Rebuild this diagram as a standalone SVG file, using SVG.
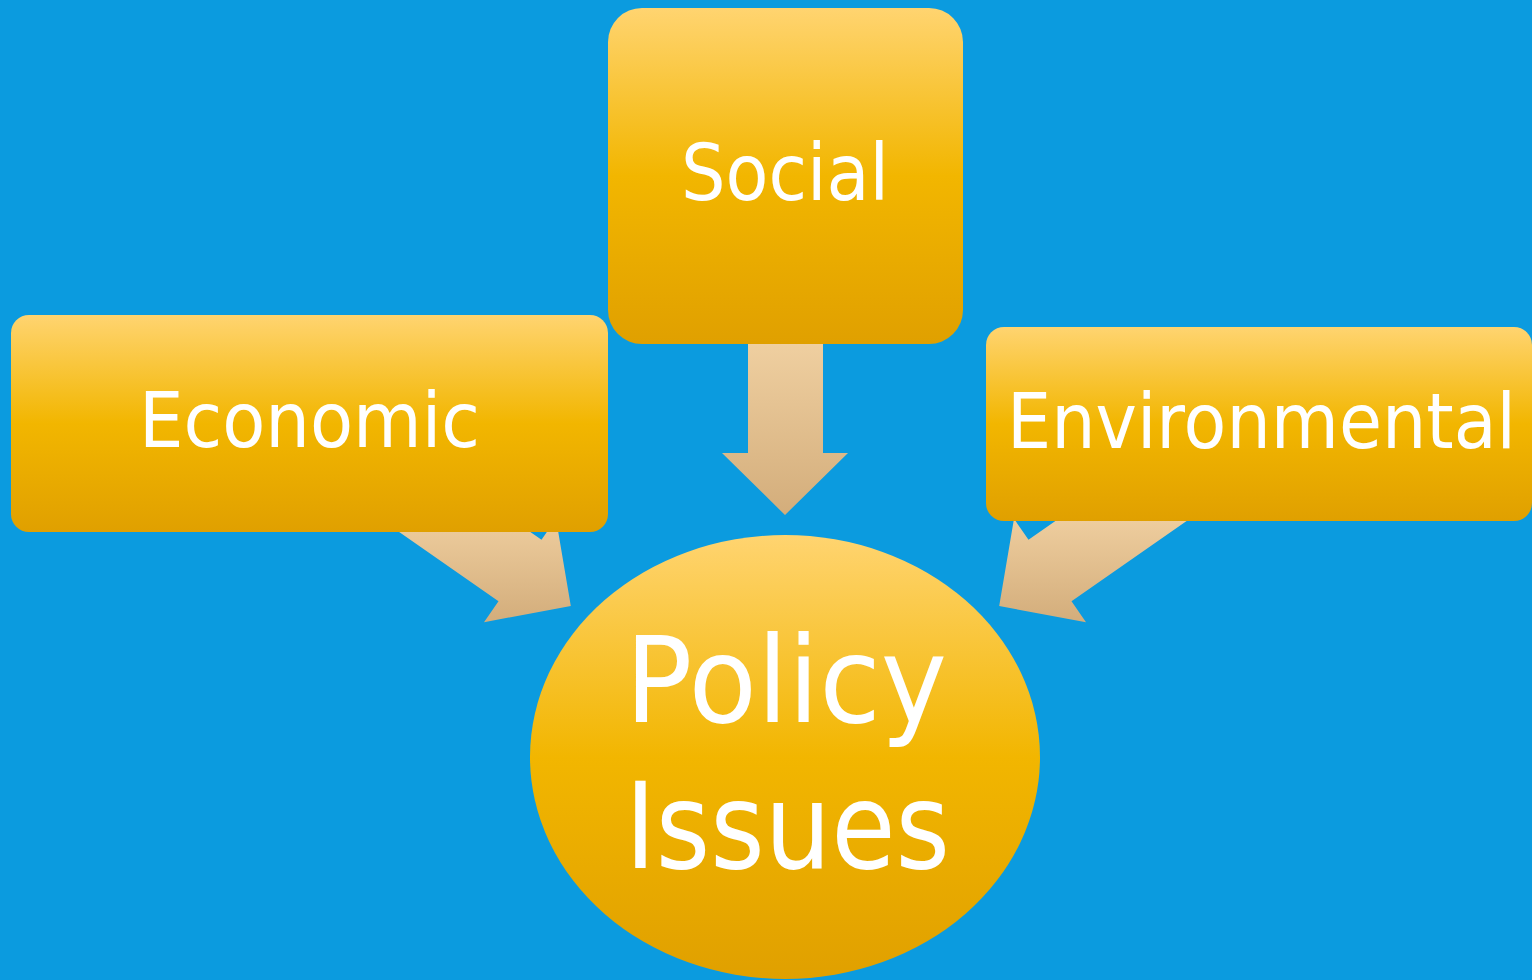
<svg xmlns="http://www.w3.org/2000/svg" width="1532" height="980" viewBox="0 0 1532 980">
<defs>
<linearGradient id="gold" x1="0" y1="0" x2="0" y2="1">
<stop offset="0" stop-color="#FFD470"/>
<stop offset="0.5" stop-color="#F2B600"/>
<stop offset="1" stop-color="#E0A000"/>
</linearGradient>
<linearGradient id="tanD" gradientUnits="userSpaceOnUse" x1="0" y1="344" x2="0" y2="515">
<stop offset="0" stop-color="#EFCFA0"/>
<stop offset="1" stop-color="#D3AD7B"/>
</linearGradient>
<linearGradient id="tanS" gradientUnits="userSpaceOnUse" x1="0" y1="520" x2="0" y2="622">
<stop offset="0" stop-color="#EECD9E"/>
<stop offset="1" stop-color="#D3AD7B"/>
</linearGradient>
<style>
.node{fill:url(#gold)}
.lbl{fill:#FFFFFF;font-family:"DejaVu Sans","Liberation Sans",sans-serif;text-anchor:middle}
</style>
</defs>
<rect width="1532" height="980" fill="#0B9BDF"/>
<g id="connectors">
<polygon fill="url(#tanD)" points="748,344 823,344 823,453 848,453 785,515 722,453 748,453"/>
<polygon fill="url(#tanS)" points="418.5,454 541.5,539.75 556,518.8 570.8,606 484,622.2 498.5,601.25 375.5,515.5"/>
<polygon fill="url(#tanS)" points="1151.5,454 1028.5,539.75 1014,518.8 999.2,606 1086,622.2 1071.5,601.25 1194.5,515.5"/>
</g>
<g id="node-social">
<rect class="node" x="608" y="8" width="355" height="336" rx="34"/>
<text class="lbl" x="785" y="200" font-size="78" textLength="208" lengthAdjust="spacingAndGlyphs">Social</text>
</g>
<g id="node-economic">
<rect class="node" x="11" y="315" width="597" height="217" rx="18"/>
<text class="lbl" x="309.5" y="447" font-size="77" textLength="341" lengthAdjust="spacingAndGlyphs">Economic</text>
</g>
<g id="node-environmental">
<rect class="node" x="986" y="327" width="546" height="194" rx="18"/>
<text class="lbl" x="1261.5" y="448" font-size="77" textLength="509" lengthAdjust="spacingAndGlyphs">Environmental</text>
</g>
<g id="node-policy">
<ellipse class="node" cx="785" cy="757" rx="255" ry="222"/>
<text class="lbl" x="786" y="722" font-size="119" textLength="322" lengthAdjust="spacingAndGlyphs">Policy</text>
<text class="lbl" x="787.5" y="868" font-size="119" textLength="325" lengthAdjust="spacingAndGlyphs">Issues</text>
</g>
</svg>
